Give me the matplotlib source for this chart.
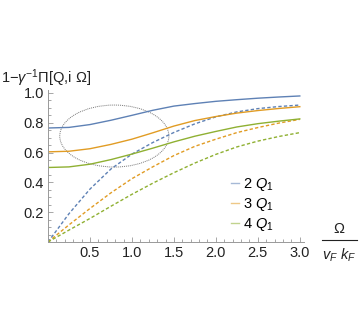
import matplotlib
matplotlib.use('Agg')
import matplotlib.pyplot as plt
from matplotlib.patches import Ellipse
from matplotlib.lines import Line2D
from matplotlib.ticker import MultipleLocator

plt.rcParams['font.family'] = ['Liberation Sans', 'DejaVu Sans']
plt.rcParams['mathtext.fontset'] = 'custom'
plt.rcParams['mathtext.rm'] = 'Liberation Sans'
plt.rcParams['mathtext.it'] = 'Liberation Sans:italic'

# Omega / (v_F k_F)
omega = [0.0, 0.25, 0.5, 0.75, 1.0, 1.25, 1.5, 1.75, 2.0, 2.25, 2.5, 2.75, 3.0]

# solid curves
solid_2q = [0.765, 0.769, 0.788, 0.817, 0.850, 0.884, 0.912, 0.929, 0.944, 0.955, 0.965, 0.973, 0.980]
solid_3q = [0.605, 0.609, 0.626, 0.655, 0.690, 0.733, 0.778, 0.815, 0.842, 0.865, 0.882, 0.896, 0.908]
solid_4q = [0.500, 0.504, 0.522, 0.553, 0.590, 0.630, 0.672, 0.710, 0.742, 0.772, 0.794, 0.811, 0.826]

# dashed curves
dashed_2q = [0.0, 0.190, 0.355, 0.490, 0.590, 0.668, 0.735, 0.793, 0.840, 0.873, 0.895, 0.909, 0.919]
dashed_3q = [0.0, 0.115, 0.225, 0.330, 0.425, 0.505, 0.580, 0.642, 0.690, 0.734, 0.768, 0.798, 0.823]
dashed_4q = [0.0, 0.080, 0.158, 0.240, 0.320, 0.395, 0.465, 0.530, 0.588, 0.638, 0.677, 0.708, 0.734]

labels = ['2 $Q_1$', '3 $Q_1$', '4 $Q_1$']
colors = ['#5E81B5', '#E19C24', '#8FB032']

# dotted ellipse marking the region of interest
ell_center = (0.79, 0.711)
ell_w, ell_h = 1.30, 0.416

W, H = 359, 318
FS = 10.5
fig = plt.figure(figsize=(W / 100, H / 100), dpi=100)
ax = fig.add_axes([48 / W, 76 / H, 256 / W, 152 / H])

solids = [solid_2q, solid_3q, solid_4q]
dashes = [dashed_2q, dashed_3q, dashed_4q]
handles = []
for s, d, c in zip(solids, dashes, colors):
    h, = ax.plot(omega, s, color=c, lw=1.0)
    ax.plot(omega, d, color=c, lw=1.0, dashes=(2.4, 1.6))
    handles.append(h)

ax.add_patch(Ellipse(ell_center, ell_w, ell_h, fill=False, ls=(0, (1, 1)),
                     lw=0.7, color='#777777'))

ax.set_xlim(0, 3.05)
ax.set_ylim(0, 1.02)
ax.xaxis.set_minor_locator(MultipleLocator(0.1))
ax.yaxis.set_minor_locator(MultipleLocator(0.05))
ax.set_xticks([0.5, 1.0, 1.5, 2.0, 2.5, 3.0])
ax.set_yticks([0.2, 0.4, 0.6, 0.8, 1.0])
ax.tick_params(which='both', direction='in', color='#999999', width=0.6,
               labelsize=FS, labelcolor='#222222', pad=3)
ax.tick_params(which='major', length=3.5)
ax.tick_params(which='minor', length=2)
for side in ['top', 'right']:
    ax.spines[side].set_visible(False)
for side in ['left', 'bottom']:
    ax.spines[side].set_color('#999999')
    ax.spines[side].set_linewidth(0.7)
ax.patch.set_alpha(0)

leg = ax.legend(handles, labels, loc='upper left', bbox_to_anchor=(231 / W, 1 - 176 / H),
                bbox_transform=fig.transFigure, frameon=False, handlelength=0.55,
                handletextpad=0.25, borderpad=0, borderaxespad=0, labelspacing=0.22,
                fontsize=FS)
for lh in leg.get_lines():
    lh.set_alpha(0.55)

fig.text(1 / W, 1 - 83 / H, r'1−$\gamma^{-1}$Π[Q,i Ω]', fontsize=FS, va='baseline',
         color='#222222')

fig.text(339 / W, 1 - 229 / H, 'Ω', fontsize=FS, ha='center', va='center', color='#222222')
fig.add_artist(Line2D([322 / W, 357 / W], [1 - 239.5 / H, 1 - 239.5 / H],
                      transform=fig.transFigure, color='#222222', lw=0.8))
fig.text(339 / W, 1 - 255 / H, r'$v_F\ k_F$', fontsize=FS, ha='center', va='center',
         color='#222222')

fig.savefig('out.png', dpi=100)
